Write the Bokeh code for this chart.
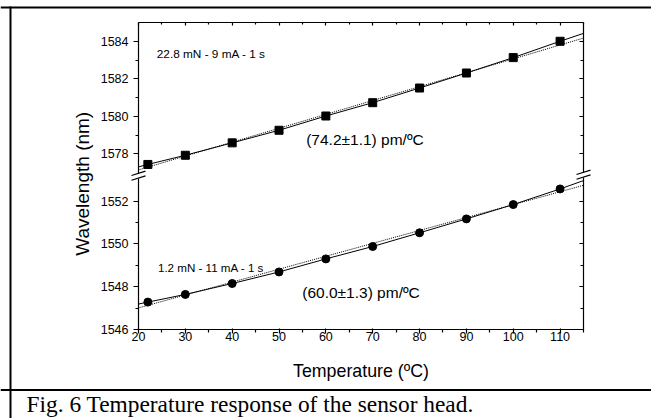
import math
from bokeh.plotting import figure
from bokeh.models import Range1d, LinearAxis, FixedTicker, Label
from bokeh.embed import file_html
from bokeh.resources import INLINE

# ---------------- data ----------------
temperature = [22, 30, 40, 50, 60, 70, 80, 90, 100, 110]
wl_high = [1577.44, 1577.93, 1578.59, 1579.26, 1580.02, 1580.73, 1581.51, 1582.31, 1583.13, 1584.00]
wl_low = [1547.28, 1547.64, 1548.15, 1548.69, 1549.30, 1549.88, 1550.52, 1551.17, 1551.84, 1552.57]

# solid curve through the points, extended to the axes
curve_x = [20, 22, 30, 40, 50, 60, 70, 80, 90, 100, 110, 115]
curve_high = [1577.31, 1577.44, 1577.93, 1578.59, 1579.26, 1580.02, 1580.73, 1581.51, 1582.31, 1583.13, 1584.00, 1584.42]
curve_low = [1547.19, 1547.28, 1547.64, 1548.15, 1548.69, 1549.30, 1549.88, 1550.52, 1551.17, 1551.84, 1552.57, 1552.96]

# dotted linear fit
fit_x = [20, 115]
fit_high = [1577.15, 1584.17]
fit_low = [1547.01, 1552.74]

x_ticks = [20, 30, 40, 50, 60, 70, 80, 90, 100, 110]
x_minor = [25, 35, 45, 55, 65, 75, 85, 95, 105, 115]
y_ticks_low = [1546, 1548, 1550, 1552]
y_minor_low = [1547, 1549, 1551]
y_ticks_high = [1578, 1580, 1582, 1584]
y_minor_high = [1579, 1581, 1583]

label_high = "22.8 mN - 9 mA - 1 s"
label_low = "1.2 mN - 11 mA - 1 s"
slope_high = "(74.2\u00b11.1) pm/\u00baC"
slope_low = "(60.0\u00b11.3) pm/\u00baC"
x_title = "Temperature (\u00baC)"
y_title = "Wavelength (nm)"
caption = "Fig. 6 Temperature response of the sensor head."

# ---------------- ranges (broken y axis) ----------------
L0, L1 = 1546.0, 1560.35     # lower segment scale over whole frame
U0, U1 = 1568.65, 1585.0     # upper segment scale over whole frame


def to_lower(v):
    return round(L0 + (v - U0) * (L1 - L0) / (U1 - U0), 5)


SANS = "Liberation Sans"
W, H = 651, 418

p = figure(width=W, height=H, x_range=Range1d(20, 115), y_range=Range1d(L0, L1),
           output_backend="svg", toolbar_location=None,
           min_border_left=138, min_border_right=68, min_border_top=22, min_border_bottom=89)
p.extra_y_ranges = {"upper": Range1d(U0, U1)}
p.grid.visible = False
p.outline_line_color = None
p.background_fill_color = "white"
p.border_fill_color = "white"
p.styles = {"position": "absolute", "left": "0px", "top": "0px"}

x_ticker = FixedTicker(ticks=x_ticks, minor_ticks=x_minor)
y_ticker = FixedTicker(ticks=y_ticks_low + [to_lower(v) for v in y_ticks_high],
                       minor_ticks=y_minor_low + [to_lower(v) for v in y_minor_high])
y_over = {to_lower(v): str(v) for v in y_ticks_high}


def style_axis(ax):
    ax.axis_line_color = "black"
    ax.axis_line_width = 1.2
    ax.major_tick_line_color = "black"
    ax.minor_tick_line_color = "black"
    ax.major_tick_line_width = 1.2
    ax.minor_tick_line_width = 1.2
    ax.major_label_text_font = SANS
    ax.major_label_text_font_size = "12.5px"
    ax.major_label_text_color = "black"


xb = p.xaxis[0]
xb.ticker = x_ticker
style_axis(xb)
xb.major_tick_out = 4
xb.major_tick_in = 1
xb.minor_tick_out = 3
xb.minor_tick_in = 0
xb.major_label_standoff = -2
xb.axis_label = x_title
xb.axis_label_text_font = SANS
xb.axis_label_text_font_size = "17.8px"
xb.axis_label_text_font_style = "normal"
xb.axis_label_text_color = "black"
xb.axis_label_standoff = 17

yl = p.yaxis[0]
yl.ticker = y_ticker
yl.major_label_overrides = y_over
style_axis(yl)
yl.major_tick_out = 5
yl.major_tick_in = 0
yl.minor_tick_out = 3
yl.minor_tick_in = 0
yl.major_label_standoff = 5

xt = LinearAxis(ticker=x_ticker, major_label_overrides={t: "" for t in x_ticks})
style_axis(xt)
xt.major_tick_out = 0
xt.major_tick_in = 3
xt.minor_tick_out = 0
xt.minor_tick_in = 2
p.add_layout(xt, "above")

yr = LinearAxis(ticker=y_ticker,
                major_label_overrides={t: "" for t in y_ticker.ticks})
style_axis(yr)
yr.major_tick_out = 0
yr.major_tick_in = 4
yr.minor_tick_out = 0
yr.minor_tick_in = 3
p.add_layout(yr, "right")

# ---------------- data glyphs ----------------
p.line(fit_x, fit_high, y_range_name="upper", line_color="black", line_width=1, line_dash="1 1")
p.line(curve_x, curve_high, y_range_name="upper", line_color="black", line_width=1)
p.scatter(temperature, wl_high, y_range_name="upper", marker="square", size=8,
          fill_color="black", line_color="black")

p.line(fit_x, fit_low, line_color="black", line_width=1, line_dash="1 1")
p.line(curve_x, curve_low, line_color="black", line_width=1)
p.scatter(temperature, wl_low, marker="circle", size=8, fill_color="black", line_color="black")

# ---------------- texts inside the frame ----------------
p.add_layout(Label(x=23.9, y=1583.31, y_range_name="upper", text=label_high, text_font=SANS,
                   text_font_size="11.8px", text_baseline="middle", text_color="black"))
p.add_layout(Label(x=55.8, y=1578.78, y_range_name="upper", text=slope_high, text_font=SANS,
                   text_font_size="15.5px", text_baseline="middle", text_color="black"))
p.add_layout(Label(x=24.15, y=1548.89, text=label_low, text_font=SANS,
                   text_font_size="11.6px", text_baseline="middle", text_color="black"))
p.add_layout(Label(x=54.96, y=1547.72, text=slope_low, text_font=SANS,
                   text_font_size="15.5px", text_baseline="middle", text_color="black"))

# ---------------- transparent overlay for page decorations (pixel coordinates) ----------------
ov = figure(width=W, height=H, x_range=Range1d(0, W), y_range=Range1d(H, 0),
            output_backend="svg", toolbar_location=None,
            x_axis_type=None, y_axis_type=None,
            min_border_left=0, min_border_right=0, min_border_top=0, min_border_bottom=0)
ov.grid.visible = False
ov.outline_line_color = None
ov.background_fill_color = None
ov.border_fill_color = None
ov.styles = {"position": "absolute", "left": "0px", "top": "0px"}

# page rules (table cell borders)
ov.quad(left=[0, 9, 0], right=[W, 11, W], top=[6, 6, 388.5], bottom=[8, H, 390.5],
        fill_color="black", line_color=None)


# axis breaks: erase a bit of axis line and draw two slashes
def add_break(cx, cy):
    ov.patch([cx - 3, cx + 3, cx + 3, cx - 3], [cy - 1.4, cy - 3.3, cy + 1.8, cy + 3.7],
             fill_color="white", line_color=None)
    ov.segment(x0=[cx - 7, cx - 7], y0=[cy - 0.2, cy + 4.6],
               x1=[cx + 7, cx + 7], y1=[cy - 4.6, cy + 0.2],
               line_color="black", line_width=1.2)


add_break(138, 175.2)
add_break(583, 174.2)

ov.add_layout(Label(x=81.7, y=183.3, text=y_title, angle=math.pi / 2,
                    text_align="center", text_baseline="middle",
                    text_font=SANS, text_font_size="19px", text_color="black"))
ov.add_layout(Label(x=26, y=403.5, text=caption, text_font="Liberation Serif",
                    text_font_size="23.4px", text_baseline="middle", text_color="black"))

open("out.html", "w").write(file_html([p, ov], INLINE))
